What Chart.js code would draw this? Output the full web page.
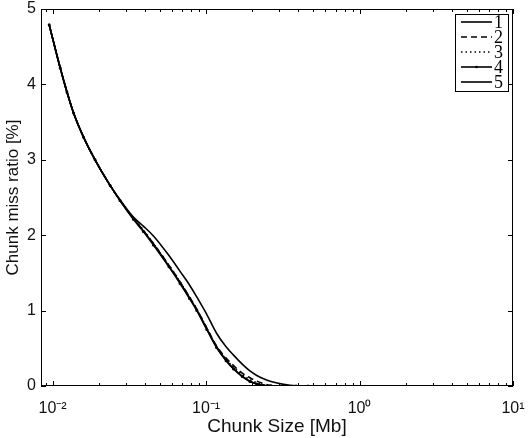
<!DOCTYPE html>
<html>
<head>
<meta charset="utf-8">
<script src="https://cdn.jsdelivr.net/npm/chart.js@4/dist/chart.umd.min.js"></script>
<style>
html,body{margin:0;padding:0;background:#fff;}
#wrap{width:530px;height:438px;}
</style>
</head>
<body>
<div id="wrap"><canvas id="c" width="530" height="438"></canvas></div>
<script>
// Chunk sizes [Mb]
const sizes = [0.0095, 0.0112, 0.0124, 0.0137, 0.0159, 0.0189, 0.0237, 0.0275, 0.0336, 0.039, 0.0454, 0.0573, 0.0677, 0.078, 0.087, 0.101, 0.117, 0.135, 0.151, 0.172, 0.193, 0.214, 0.237, 0.265, 0.32, 0.386, 0.462];
// Chunk miss ratio [%] per series
const series1 = [4.79, 4.22, 3.90, 3.62, 3.30, 3.00, 2.66, 2.46, 2.22, 2.06, 1.88, 1.59, 1.37, 1.17, 1.01, 0.76, 0.52, 0.34, 0.23, 0.13, 0.065, 0.03, 0.008, 0, 0, 0, 0];
const series2 = [4.79, 4.22, 3.90, 3.62, 3.30, 3.00, 2.66, 2.46, 2.22, 2.06, 1.89, 1.60, 1.38, 1.18, 1.02, 0.77, 0.53, 0.37, 0.27, 0.17, 0.11, 0.065, 0.03, 0.008, 0, 0, 0];
const series3 = [4.79, 4.22, 3.90, 3.62, 3.30, 3.00, 2.66, 2.46, 2.23, 2.07, 1.89, 1.60, 1.38, 1.18, 1.02, 0.77, 0.52, 0.355, 0.25, 0.15, 0.085, 0.045, 0.015, 0.002, 0, 0, 0];
const series4 = [4.79, 4.22, 3.90, 3.62, 3.30, 3.00, 2.66, 2.46, 2.21, 2.05, 1.87, 1.58, 1.36, 1.16, 1.00, 0.75, 0.51, 0.335, 0.225, 0.125, 0.06, 0.025, 0.005, 0, 0, 0, 0];
const series5 = [4.79, 4.22, 3.90, 3.62, 3.30, 3.00, 2.66, 2.47, 2.24, 2.12, 1.99, 1.73, 1.52, 1.34, 1.18, 0.95, 0.70, 0.52, 0.41, 0.29, 0.20, 0.14, 0.095, 0.06, 0.022, 0.003, 0];
const seriesNames = ['1', '2', '3', '4', '5'];
const xTickValues = [0.01, 0.1, 1, 10];
const xTickLabels = ['10\u207B\u00B2', '10\u207B\u00B9', '10\u2070', '10\u00B9'];
const yTickValues = [0, 1, 2, 3, 4, 5];

const allSeries = [series1, series2, series3, series4, series5];
const styles = [
  {dash: [], pr: 0},
  {dash: [6, 4], pr: 0},
  {dash: [1.5, 3], pr: 0},
  {dash: [], pr: 0.7},
  {dash: [], pr: 0}
];

const datasets = allSeries.map((s, i) => ({
  label: seriesNames[i],
  data: s.map((v, j) => ({x: sizes[j], y: v})),
  borderColor: '#000',
  backgroundColor: '#000',
  borderWidth: 1.6,
  borderDash: styles[i].dash,
  pointRadius: styles[i].pr,
  pointHoverRadius: 0,
  cubicInterpolationMode: 'monotone',
  fill: false
}));

const frameTicks = {
  id: 'frameTicks',
  afterDraw(chart) {
    const ctx = chart.ctx;
    const {left, right, top, bottom} = chart.chartArea;
    const xs = chart.scales.x, ys = chart.scales.y;
    ctx.save();
    ctx.strokeStyle = '#000';
    ctx.lineWidth = 1;
    ctx.setLineDash([]);
    ctx.strokeRect(left + 0.5, top + 0.5, right - left - 1, bottom - top - 1);
    ctx.beginPath();
    for (let e = -3; e <= 1; e++) {
      for (let k = 1; k <= 9; k++) {
        const v = k * Math.pow(10, e);
        if (v < xs.min || v > xs.max) continue;
        const p = Math.round(xs.getPixelForValue(v)) + 0.5;
        const len = k === 1 ? 5 : 3;
        ctx.moveTo(p, bottom); ctx.lineTo(p, bottom - len);
        ctx.moveTo(p, top); ctx.lineTo(p, top + len);
      }
    }
    yTickValues.forEach(v => {
      const p = Math.round(ys.getPixelForValue(v)) + 0.5;
      ctx.moveTo(left, p); ctx.lineTo(left + 5, p);
      ctx.moveTo(right, p); ctx.lineTo(right - 5, p);
    });
    ctx.stroke();

    // legend
    const bx = 455, by = 14, bw = 53, bh = 77;
    ctx.fillStyle = '#fff';
    ctx.fillRect(bx, by, bw, bh);
    ctx.strokeRect(bx + 0.5, by + 0.5, bw, bh);
    chart.data.datasets.forEach((ds, i) => {
      const y = by + 8 + i * 15;
      ctx.beginPath();
      ctx.lineWidth = ds.borderWidth;
      ctx.setLineDash(ds.borderDash || []);
      ctx.moveTo(bx + 6, y); ctx.lineTo(bx + 37, y);
      ctx.stroke();
      ctx.setLineDash([]);
      if (ds.pointRadius > 0) {
        ctx.beginPath(); ctx.arc(bx + 21.5, y, 1.3, 0, Math.PI * 2); ctx.fillStyle = '#000'; ctx.fill();
      }
      ctx.fillStyle = '#000';
      ctx.font = '18px "Liberation Serif", serif';
      ctx.textBaseline = 'middle';
      ctx.textAlign = 'left';
      ctx.fillText(ds.label, bx + 39, y + 1);
    });
    ctx.restore();
  }
};

new Chart(document.getElementById('c'), {
  type: 'line',
  data: {datasets},
  plugins: [frameTicks],
  options: {
    responsive: false,
    animation: false,
    events: [],
    layout: {padding: {top: 9, right: 17, left: 0, bottom: 0}},
    plugins: {legend: {display: false}, tooltip: {enabled: false}},
    scales: {
      x: {
        type: 'logarithmic',
        min: 0.0084,
        max: 10,
        grid: {display: false, drawTicks: false},
        border: {display: false},
        afterBuildTicks: s => { s.ticks = xTickValues.map(v => ({value: v})); },
        afterFit: s => { s.height = 52; s.paddingLeft = 0; s.paddingRight = 0; },
        ticks: {
          autoSkip: false,
          maxRotation: 0,
          padding: 13,
          color: '#111',
          font: {family: '"Liberation Sans", Arial, sans-serif', size: 16},
          callback: (v) => { const i = xTickValues.indexOf(v); return i >= 0 ? xTickLabels[i] : ''; }
        },
        title: {display: true, text: 'Chunk Size [Mb]', color: '#111', padding: {top: 0, bottom: 0}, font: {family: '"Liberation Sans", Arial, sans-serif', size: 19}}
      },
      y: {
        min: 0,
        max: 5,
        grid: {display: false, drawTicks: false},
        border: {display: false},
        afterBuildTicks: s => { s.ticks = yTickValues.map(v => ({value: v})); },
        afterFit: s => { s.width = 41; s.paddingTop = 0; s.paddingBottom = 0; },
        ticks: {
          padding: 5,
          color: '#111',
          font: {family: '"Liberation Sans", Arial, sans-serif', size: 16}
        },
        title: {display: true, text: 'Chunk miss ratio [%]', color: '#111', padding: {top: 3, bottom: 0}, font: {family: '"Liberation Sans", Arial, sans-serif', size: 17}}
      }
    }
  }
});
</script>
</body>
</html>
